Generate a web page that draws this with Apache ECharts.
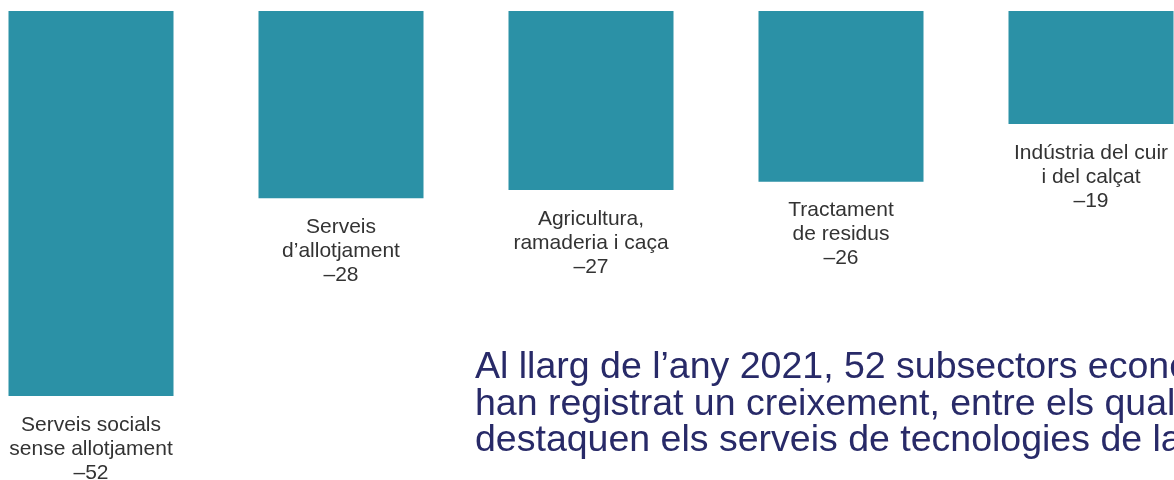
<!DOCTYPE html>
<html>
<head>
<meta charset="utf-8">
<script src="https://cdn.jsdelivr.net/npm/echarts@6/dist/echarts.min.js"></script>
<style>
  html, body { margin: 0; padding: 0; background: #ffffff; }
  #chart { width: 1174px; height: 480px; }
</style>
</head>
<body>
<div id="chart"></div>
<script>
// subsectors with the largest falls (2021)
const categories = [
  "Serveis socials\nsense allotjament",
  "Serveis\nd’allotjament",
  "Agricultura,\nramaderia i caça",
  "Tractament\nde residus",
  "Indústria del cuir\ni del calçat"
];
const values = [-52, -28, -27, -26, -19];

const noteLines = [
  "Al llarg de l’any 2021, 52 subsectors econòmics",
  "han registrat un creixement, entre els quals",
  "destaquen els serveis de tecnologies de la informació"
];

const chart = echarts.init(document.getElementById("chart"));

const option = {
  backgroundColor: "#FFFFFF",
  animation: false,
  grid: {
    left: -34,
    top: 11,
    width: 1250,
    height: 385,
    outerBoundsMode: "none" // let the grid run past the canvas edges
  },
  xAxis: {
    type: "category",
    data: categories,
    show: false
  },
  yAxis: {
    type: "value",
    min: -52,
    max: -5.3, // bars hang from the top edge
    show: false
  },
  series: [
    {
      type: "bar",
      data: values,
      barWidth: 165,
      itemStyle: { color: "#2b91a6" },
      label: {
        show: true,
        position: "bottom",
        distance: 17,
        color: "#333333",
        fontFamily: "Liberation Sans",
        fontSize: 21,
        lineHeight: 24,
        align: "center",
        formatter: p => p.name + "\n–" + Math.abs(p.value)
      }
    }
  ],
  graphic: [
    {
      type: "text",
      left: 475,
      top: 349,
      style: {
        text: noteLines.join("\n"),
        fill: "#282a68",
        font: "37.5px 'Liberation Sans'",
        lineHeight: 36.5
      }
    }
  ]
};

chart.setOption(option);
window.addEventListener("resize", () => chart.resize());
</script>
</body>
</html>
